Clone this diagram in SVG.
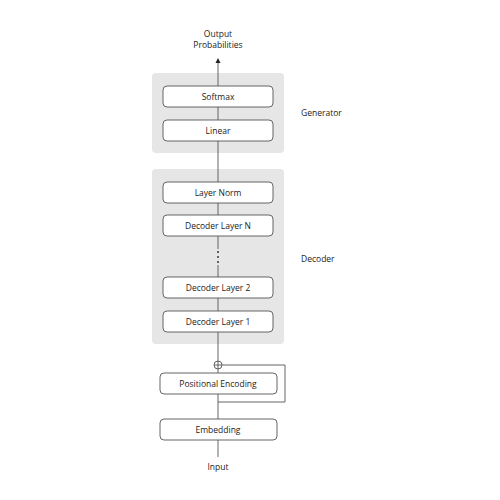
<svg xmlns="http://www.w3.org/2000/svg" width="500" height="500" viewBox="0 0 500 500">
<style>
.panel{fill:#e6e6e6;stroke:none}
.box{fill:#fff;stroke:#555;stroke-width:0.9}
.t{font-family:"Open Sans","Noto Sans",sans-serif;font-size:8.5px;fill:#222;text-anchor:middle;dominant-baseline:central}
.lbl{font-family:"Open Sans","Noto Sans",sans-serif;font-size:8.5px;fill:#222;dominant-baseline:central}
.ln{stroke:#555;stroke-width:0.9;fill:none}
</style>
<defs>
<marker id="ah" markerWidth="6" markerHeight="6" refX="3" refY="3" orient="auto" markerUnits="userSpaceOnUse">
<path d="M0,0.5 L5,3 L0,5.5 Z" fill="#222"/>
</marker>
</defs>
<rect width="500" height="500" fill="#fff"/>
<g id="generator">
<rect class="panel" x="152" y="73" width="132" height="80" rx="4"/>
<text class="lbl" x="301" y="112">Generator</text>
</g>
<g id="decoder">
<rect class="panel" x="152" y="169" width="132" height="175" rx="4"/>
<text class="lbl" x="301" y="258">Decoder</text>
</g>
<g id="connectors">
<line class="ln" x1="218" y1="86" x2="218" y2="60" marker-end="url(#ah)"/>
<line class="ln" x1="218" y1="107" x2="218" y2="120"/>
<line class="ln" x1="218" y1="141" x2="218" y2="182"/>
<line class="ln" x1="218" y1="203" x2="218" y2="215"/>
<line class="ln" x1="218" y1="236" x2="218" y2="249"/>
<line class="ln" x1="218" y1="265" x2="218" y2="277"/>
<line class="ln" x1="218" y1="298" x2="218" y2="311"/>
<line class="ln" x1="218" y1="332" x2="218" y2="361"/>
<line class="ln" x1="218" y1="369" x2="218" y2="373"/>
<line class="ln" x1="218" y1="394" x2="218" y2="419"/>
<line class="ln" x1="218" y1="440" x2="218" y2="457"/>
<polyline class="ln" points="222,365 285,365 285,402 218,402"/>
<circle class="ln" cx="218" cy="365" r="4"/>
<line class="ln" x1="214" y1="365" x2="222" y2="365"/>
<line class="ln" x1="218" y1="361" x2="218" y2="369"/>
<circle cx="218" cy="252" r="0.9" fill="#222"/>
<circle cx="218" cy="257" r="0.9" fill="#222"/>
<circle cx="218" cy="262" r="0.9" fill="#222"/>
</g>
<g id="output"><text class="t" x="218" y="33">Output</text><text class="t" x="218" y="44">Probabilities</text></g>
<g id="softmax"><rect class="box" x="163" y="86" width="110" height="21" rx="4"/><text class="t" x="218" y="96.5">Softmax</text></g>
<g id="linear"><rect class="box" x="163" y="120" width="110" height="21" rx="4"/><text class="t" x="218" y="130.5">Linear</text></g>
<g id="layernorm"><rect class="box" x="163" y="182" width="110" height="21" rx="4"/><text class="t" x="218" y="192.5">Layer Norm</text></g>
<g id="decN"><rect class="box" x="163" y="215" width="110" height="21" rx="4"/><text class="t" x="218" y="225.5">Decoder Layer N</text></g>
<g id="dec2"><rect class="box" x="163" y="277" width="110" height="21" rx="4"/><text class="t" x="218" y="287.5">Decoder Layer 2</text></g>
<g id="dec1"><rect class="box" x="163" y="311" width="110" height="21" rx="4"/><text class="t" x="218" y="321.5">Decoder Layer 1</text></g>
<g id="posenc"><rect class="box" x="160" y="373" width="117" height="21" rx="4"/><text class="t" x="218" y="383.5">Positional Encoding</text></g>
<g id="embedding"><rect class="box" x="160" y="419" width="117" height="21" rx="4"/><text class="t" x="218" y="429.5">Embedding</text></g>
<g id="input"><text class="t" x="218" y="466">Input</text></g>
</svg>
